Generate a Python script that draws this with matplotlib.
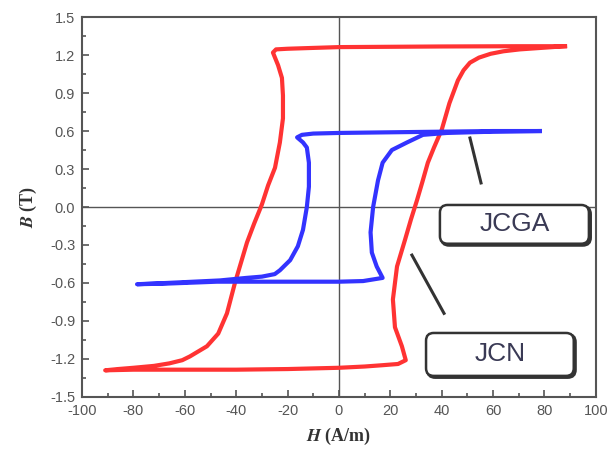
import numpy as np
import matplotlib
matplotlib.use('Agg')
import matplotlib.pyplot as plt
from matplotlib.patches import FancyBboxPatch
from matplotlib.ticker import MultipleLocator, FuncFormatter

plt.rcParams['axes.unicode_minus'] = False
plt.rcParams['mathtext.fontset'] = 'stix'

# JCN loop (red): upper (descending) branch then lower (ascending) branch
jcn_h = [88, 81, 70, 40, 0, -12.5, -20, -24.5, -25.7, -23.7, -22.2, -21.8, -21.8, -23, -24.9,
         -27.6, -30, -33, -35.8, -38, -40.5, -43.6, -47, -51.4, -58, -61, -66, -72, -80,
         -86, -91,
         -80, -60, -40, -20, 0, 10, 16.7, 23, 26, 24.5, 21.8, 21, 22.6, 25.7, 28, 30.4,
         32.5, 34.6, 37, 40, 43, 46.3, 48.5, 51, 54.5, 59, 64, 70.4, 81, 88]
jcn_b = [1.27, 1.27, 1.27, 1.268, 1.263, 1.255, 1.25, 1.245, 1.22, 1.12, 1.02, 0.88, 0.70,
         0.51, 0.31, 0.17, 0.02, -0.13, -0.28, -0.43, -0.6, -0.84, -1.0, -1.1, -1.18, -1.21,
         -1.235, -1.255, -1.27, -1.28, -1.29,
         -1.285, -1.285, -1.285, -1.28, -1.27, -1.26, -1.25, -1.24, -1.21, -1.1, -0.95,
         -0.73, -0.47, -0.26, -0.1, 0.055, 0.2, 0.35, 0.47, 0.61, 0.82, 1.0, 1.08, 1.14,
         1.18, 1.21, 1.23, 1.245, 1.26, 1.27]

# JCGA loop (blue)
jcga_h = [78.2, 60, 40, 20, 0, -10, -14.4, -16.3, -14, -12.5, -11.7, -11.7, -12.5, -14, -16,
          -19, -23, -25, -30, -36, -46.3, -67, -78.6,
          -67, -47.5, -20, 0, 9.4, 17, 14.7, 12.8, 12.3, 13.3, 15.2, 17, 20.6, 26.5, 32.7,
          42, 60, 78.2]
jcga_b = [0.6, 0.6, 0.595, 0.59, 0.585, 0.58, 0.57, 0.55, 0.51, 0.47, 0.35, 0.16, 0.0,
          -0.18, -0.31, -0.42, -0.5, -0.53, -0.55, -0.56, -0.58, -0.6, -0.61,
          -0.605, -0.59, -0.59, -0.59, -0.585, -0.56, -0.47, -0.36, -0.2, 0.0, 0.21, 0.35,
          0.45, 0.51, 0.57, 0.585, 0.595, 0.6]

fig = plt.figure(figsize=(6.08, 4.5), dpi=100)
ax = fig.add_axes([0.135, 0.118, 0.845, 0.844])

axcol = '#555555'
ax.axhline(0, color=axcol, lw=1.0, zorder=1)
ax.axvline(0, color=axcol, lw=1.0, zorder=1)

ax.plot(jcn_h, jcn_b, color='#ff3333', lw=3.0, solid_joinstyle='round', zorder=3)
ax.plot(jcga_h, jcga_b, color='#3333ff', lw=3.0, solid_joinstyle='round', zorder=3)

ax.set_xlim(-100, 100)
ax.set_ylim(-1.5, 1.5)
ax.xaxis.set_major_locator(MultipleLocator(20))
ax.xaxis.set_minor_locator(MultipleLocator(10))
ax.yaxis.set_major_locator(MultipleLocator(0.3))
ax.yaxis.set_minor_locator(MultipleLocator(0.15))
ax.yaxis.set_major_formatter(FuncFormatter(lambda v, p: '%.1f' % (0.0 if abs(v) < 1e-9 else v)))
ax.xaxis.set_major_formatter(FuncFormatter(lambda v, p: '%d' % round(v)))
ax.tick_params(which='both', direction='in', color=axcol, labelcolor='#555555',
               labelsize=10.5, width=1.2)
ax.tick_params(which='major', length=5, pad=5)
ax.tick_params(which='minor', length=3)
for lab in ax.get_xticklabels() + ax.get_yticklabels():
    lab.set_family('Liberation Sans')
for s in ax.spines.values():
    s.set_color(axcol)
    s.set_linewidth(1.5)

ax.set_xlabel(r'$\mathbfit{H}$ (A/m)', family='Liberation Serif', fontweight='bold',
              fontsize=13, color='#333333', labelpad=6)
ax.set_ylabel(r'$\mathbfit{B}$ (T)', family='Liberation Serif', fontweight='bold',
              fontsize=13, color='#333333', labelpad=8)

# label boxes
asp = (126.7 / 2.57)
def label_box(x0, x1, y0, y1, txt):
    shadow = FancyBboxPatch((x0 + 0.6, y0 - 0.012), x1 - x0, y1 - y0,
                            boxstyle='round,pad=0,rounding_size=3',
                            mutation_aspect=1 / asp, fc='none', ec='#333333', lw=2.2, zorder=4)
    box = FancyBboxPatch((x0, y0), x1 - x0, y1 - y0,
                         boxstyle='round,pad=0,rounding_size=3',
                         mutation_aspect=1 / asp, fc='white', ec='#333333', lw=1.8, zorder=5)
    ax.add_patch(shadow)
    ax.add_patch(box)
    ax.text((x0 + x1) / 2, (y0 + y1) / 2, txt, ha='center', va='center',
            family='Liberation Sans', fontsize=19, color='#3a3a55', zorder=6)

label_box(39.3, 97.3, -0.29, 0.016, 'JCGA')
label_box(33.9, 91.4, -1.334, -0.995, 'JCN')
ax.plot([51, 55.3], [0.545, 0.19], color='#333333', lw=2.2, zorder=4)
ax.plot([28.4, 40.9], [-0.38, -0.84], color='#333333', lw=2.2, zorder=4)

fig.savefig('out.png', dpi=100)
